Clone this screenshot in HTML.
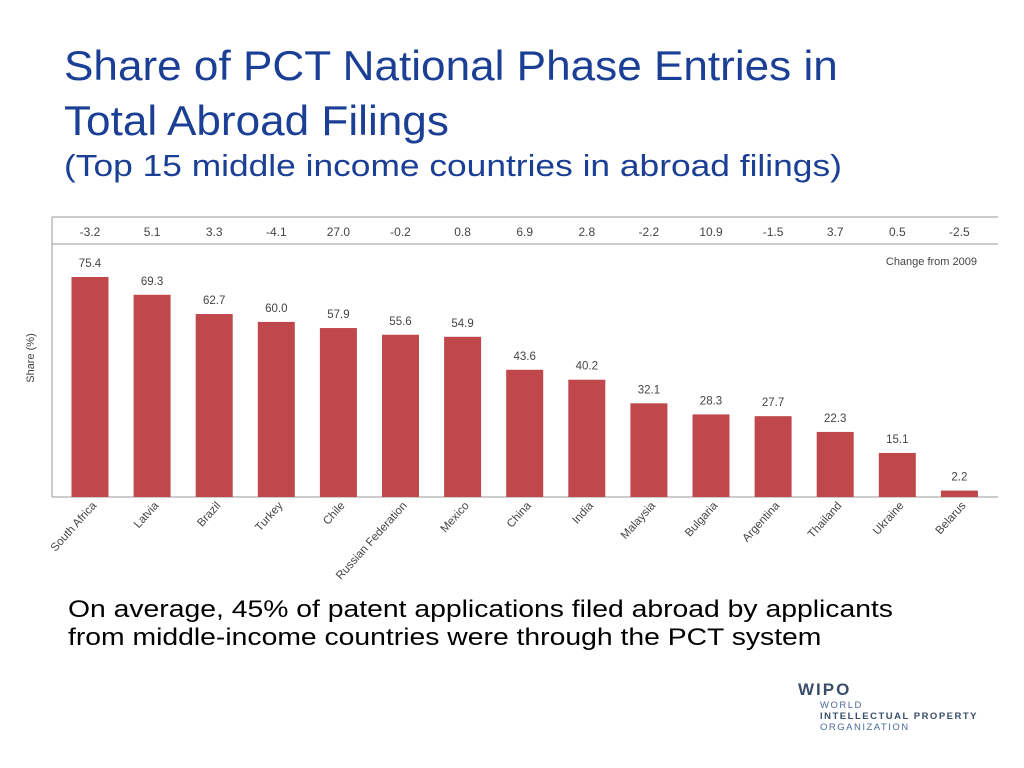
<!DOCTYPE html>
<html><head><meta charset="utf-8"><style>
body{margin:0;width:1024px;height:768px;background:#fff;position:relative;overflow:hidden;font-family:"Liberation Sans",sans-serif}
.t{position:absolute;left:64px;color:#1a3f95;margin:0;white-space:nowrap;transform-origin:0 0}
</style></head><body>
<div class="t" style="top:38px;font-size:42px;line-height:55px;transform:scaleX(1.05)">Share of PCT National Phase Entries in<br>Total Abroad Filings</div>
<div class="t" style="top:148px;font-size:31px;transform:scaleX(1.14)">(Top 15 middle income countries in abroad filings)</div>
<svg width="1024" height="600" style="position:absolute;left:0;top:0" id="c">
<line x1="52" y1="217" x2="998" y2="217" stroke="#999"/>
<line x1="52" y1="244" x2="998" y2="244" stroke="#999"/>
<line x1="52" y1="217" x2="52" y2="497" stroke="#999"/>
<line x1="52" y1="497" x2="998" y2="497" stroke="#999"/>
<text x="977" y="265" font-size="11" text-anchor="end" fill="#444">Change from 2009</text>
<text transform="translate(34,358) rotate(-90)" font-size="11" text-anchor="middle" fill="#444">Share (%)</text>
</svg>
<div class="t" style="left:68px;top:596px;font-size:24px;line-height:28px;color:#000;transform:scaleX(1.18)">On average, 45% of patent applications filed abroad by applicants<br>from middle-income countries were through the PCT system</div>
<div style="position:absolute;left:798px;top:680px;color:#3a4d6b">
<div style="font-size:17px;font-weight:bold;letter-spacing:2px">WIPO</div>
<div style="font-size:9.5px;letter-spacing:1.5px;line-height:11px;margin-left:22px;color:#4a6a9a">WORLD<br><b style="color:#3a4d6b">INTELLECTUAL PROPERTY</b><br>ORGANIZATION</div>
</div>
<script>
const categories=["South Africa","Latvia","Brazil","Turkey","Chile","Russian Federation","Mexico","China","India","Malaysia","Bulgaria","Argentina","Thailand","Ukraine","Belarus"];
const shares=[75.4,69.3,62.7,60.0,57.9,55.6,54.9,43.6,40.2,32.1,28.3,27.7,22.3,15.1,2.2];
const changes=["-3.2","5.1","3.3","-4.1","27.0","-0.2","0.8","6.9","2.8","-2.2","10.9","-1.5","3.7","0.5","-2.5"];
const svg=document.getElementById('c'),NS="http://www.w3.org/2000/svg";
const x=i=>90+i*62.1, y=v=>497-v*2.918;
function mk(t,a,txt){const e=document.createElementNS(NS,t);for(const k in a)e.setAttribute(k,a[k]);if(txt!=null)e.textContent=txt;svg.appendChild(e);return e;}
categories.forEach((c,i)=>{
 const b=mk('rect',{x:x(i)-18.5,y:y(shares[i]),width:37,height:497-y(shares[i]),fill:'#c0474c'});
 
 
 const v=mk('text',{x:x(i),y:y(shares[i])-10,'font-size':11.5,'text-anchor':'middle',fill:'#444'},shares[i].toFixed(1));
 
 
 const h=mk('text',{x:x(i),y:236,'font-size':12,'text-anchor':'middle',fill:'#444'},changes[i]);
 
 
 const l=mk('text',{transform:`translate(${x(i)+7},${506}) rotate(-48)`,'font-size':11.5,'text-anchor':'end',fill:'#444'},c);
 
 
});
</script>
</body></html>
